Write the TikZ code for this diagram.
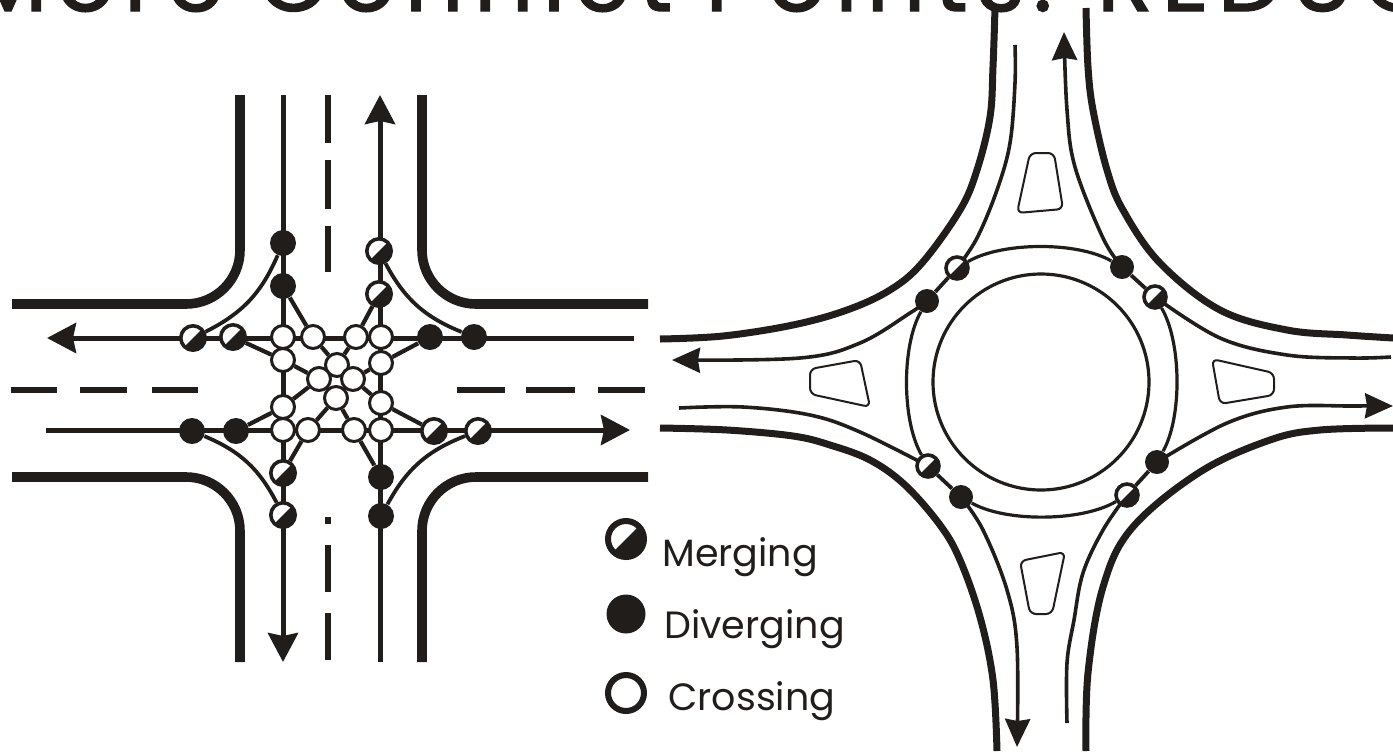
\documentclass[tikz,border=0pt]{standalone}
\usepackage{fontspec}
\setmainfont{Poppins}
\usepackage{xcolor}
\usetikzlibrary{arrows.meta,backgrounds}
\definecolor{roadink}{RGB}{33,29,27}

\tikzset{
  roadedge/.style={draw=roadink, line width=4.8pt},
  curbedge/.style={draw=roadink, line width=3.5pt},
  lane/.style={draw=roadink, line width=2.5pt},
  turnlane/.style={draw=roadink, line width=1.9pt},
  ringlane/.style={draw=roadink, line width=1.6pt},
  median/.style={draw=roadink, line width=2.6pt},
  splitter/.style={draw=roadink, line width=1pt, rounded corners=3pt},
  tipbig/.style={-{Stealth[length=14.5pt,width=15pt,inset=1.5pt]}},
  tipsmall/.style={-{Stealth[length=14pt,width=12.5pt,inset=1pt]}},
  crossing/.style={circle, draw=roadink, fill=white, line width=1.5pt, inner sep=0pt, minimum size=11.5pt},
  diverging/.style={circle, fill=roadink, inner sep=0pt, minimum size=13pt},
  merging/.style={circle, draw=roadink, fill=white, line width=1.8pt, inner sep=0pt, minimum size=12.2pt,
    path picture={\fill[roadink] (path picture bounding box.south west) -- (path picture bounding box.north east)
      -- (path picture bounding box.south east) -- cycle;}},
  legendtext/.style={anchor=base west, text=roadink, font=\fontsize{19}{23}\selectfont, inner sep=0pt}
}

\begin{document}
\begin{tikzpicture}[x=0.5pt, y=-0.5pt]
  \useasboundingbox (0,0) rectangle (1393,751);
  \clip (0,0) rectangle (1393,751);

  % Clipped heading
  \node[anchor=base west, inner sep=0pt, text=roadink, font=\fontsize{46}{50}\selectfont\addfontfeature{LetterSpace=9.5,FakeBold=1.5}] (heading) at (-32,11)
    {More Conflict Points: REDUCE};

  % Conflict points, crossroads
  \foreach \nam/\x/\y in {dA/283/243, dB/283/286, dC/192/431, dD/236/431,
                          dE/381/477, dF/381/516, dG/430/337, dH/474/337}
    \node[diverging] (\nam) at (\x,\y) {};
  \foreach \nam/\x/\y in {mA/379/251, mB/379/294, mC/193/338, mD/233/337,
                          mE/283/473, mF/283/515, mG/434/431, mH/478/431}
    \node[merging] (\nam) at (\x,\y) {};
  \foreach \nam/\x/\y in {cA/283/337, cB/313/337, cC/356/337, cD/381/337,
                          cE/283/360, cF/381/363, cG/337/365, cH/319/379,
                          cI/353/379, cJ/336/398, cK/283/407, cL/381/403,
                          cM/283/430, cN/308/430, cO/354/430, cP/381/430}
    \node[crossing] (\nam) at (\x,\y) {};

  % Conflict points, roundabout
  \foreach \nam/\x/\y in {rdA/1122/267, rdB/927/301, rdC/961/497, rdD/1157/462}
    \node[diverging, minimum size=12pt] (\nam) at (\x,\y) {};
  \foreach \nam/\x/\y/\ang in {rmA/957/268/-90, rmB/1155/297/180, rmC/1127/495/90, rmD/928/466/0}
    \node[merging, rotate=\ang, minimum size=11pt] (\nam) at (\x,\y) {};

  % Free ends of the lanes
  \foreach \nam/\x/\y in {sIn/283/95, sOut/283/662, nIn/380/662, nOut/380/95,
                          wIn/634/338, wOut/47/338, eIn/46/430, eOut/630/430,
                          rsIn/1015/45, rnOut/1064/32, rwOut/672/360, reIn/679/408,
                          reOut/1393/406, rwIn/1391/357, rsOut/1017/747, rnIn/1067/723}
    \coordinate (\nam) at (\x,\y);

  % Legend
  \node[merging, minimum size=18pt, line width=3pt] (keymerge) at (626,539) {};
  \node[diverging, minimum size=19.5pt] (keydiverge) at (626,614) {};
  \node[crossing, minimum size=18pt, line width=3pt] (keycross) at (626,693) {};
  \node[legendtext] (labmerge) at (662,566) {Merging};
  \node[legendtext] (labdiverge) at (664,638) {Diverging};
  \node[legendtext] (labcross) at (668,710) {Crossing};

  \begin{scope}[on background layer]
    % Crossroads kerbs
    \draw[roadedge, rounded corners=27pt] (240,95) -- (240,304) -- (12,304);
    \draw[roadedge, rounded corners=27pt] (422,95) -- (422,304) -- (648,304);
    \draw[roadedge, rounded corners=27pt] (240,662) -- (240,477) -- (12,477);
    \draw[roadedge, rounded corners=27pt] (422,662) -- (422,477) -- (648,477);

    % Crossroads centre lines
    \foreach \a/\b in {95/143, 160/209, 226/272, 517/524, 545/592, 613/660}
      \draw[median] (328,\a) -- (328,\b);
    \foreach \a/\b in {11/57, 80/127, 152/198, 457/505, 526/575, 598/645}
      \draw[median] (\a,390) -- (\b,390);

    % Through lanes
    \draw[lane, tipbig] (sIn) -- (sOut);
    \draw[lane, tipbig] (nIn) -- (nOut);
    \draw[lane, tipbig] (wIn) -- (wOut);
    \draw[lane, tipbig] (eIn) -- (eOut);

    % Right turns
    \draw[turnlane] (dA) to[bend left=20] (mC);
    \draw[turnlane] (dH) to[bend left=20] (mA);
    \draw[turnlane] (dF) to[bend left=20] (mH);
    \draw[turnlane] (dC) to[bend left=20] (mF);

    % Left turns
    \draw[turnlane, line width=2.1pt] (dB) -- (cB) -- (cG) -- (cI) -- (cL) -- (mG);
    \draw[turnlane, line width=2.1pt] (mB) -- (cC) -- (cG) -- (cH) -- (cK) -- (dD);
    \draw[turnlane, line width=2.1pt] (mD) -- (cE) -- (cH) -- (cJ) -- (cO) -- (dE);
    \draw[turnlane, line width=2.1pt] (dG) -- (cF) -- (cI) -- (cJ) -- (cN) -- (mE);

    % Roundabout kerbs
    \draw[curbedge] plot[smooth, tension=0.6] coordinates {(995,8) (993,67) (990,117) (977,170) (960,210) (922,263) (890,290) (847,310) (793,325) (723,336) (660,339)};
    \draw[curbedge] plot[smooth, tension=0.6] coordinates {(1086,8) (1088,67) (1093,110) (1107,170) (1123,210) (1160,263) (1220,310) (1287,330) (1347,335) (1393,338)};
    \draw[curbedge] plot[smooth, tension=0.6] coordinates {(997,751) (993,680) (980,617) (960,560) (940,525) (905,485) (870,460) (830,445) (793,436) (727,430) (660,428)};
    \draw[curbedge] plot[smooth, tension=0.6] coordinates {(1086,751) (1088,673) (1103,587) (1132,528) (1200,472) (1270,440) (1320,430) (1393,428)};

    % Roundabout lanes
    \draw[turnlane, line width=1.8pt] plot[smooth, tension=0.6] coordinates {(rsIn) (1015,83) (1010,143) (997,190) (977,238) (rmA)};
    \draw[turnlane, line width=1.8pt, tipsmall] plot[smooth, tension=0.6] coordinates {(rdA) (1103,238) (1075,167) (1067,110) (rnOut)};
    \draw[turnlane, line width=1.8pt, tipsmall] plot[smooth, tension=0.6] coordinates {(rdB) (910,313) (860,343) (800,358) (rwOut)};
    \draw[turnlane, line width=1.8pt] plot[smooth, tension=0.6] coordinates {(reIn) (743,407) (810,415) (860,432) (rmD)};
    \draw[turnlane, line width=1.8pt] plot[smooth, tension=0.6] coordinates {(rwIn) (1353,358) (1287,355) (1220,338) (rmB)};
    \draw[turnlane, line width=1.8pt, tipsmall] plot[smooth, tension=0.6] coordinates {(rdD) (1227,423) (1287,407) (1352,406) (reOut)};
    \draw[turnlane, line width=1.8pt, tipsmall] plot[smooth, tension=0.6] coordinates {(rdC) (983,530) (1007,590) (1017,647) (rsOut)};
    \draw[turnlane, line width=1.8pt] plot[smooth, tension=0.6] coordinates {(rnIn) (1067,663) (1074,620) (1083,573) (1103,530) (rmC)};

    % Circulating ring
    \draw[ringlane] (rmA) to[bend left=30, looseness=0.7] (rdA);
    \draw[ringlane] (rmB) to[bend left=30, looseness=0.7] (rdD);
    \draw[ringlane] (rmC) to[bend left=30, looseness=0.7] (rdC);
    \draw[ringlane] (rmD) to[bend left=30, looseness=0.7] (rdB);
    \draw[turnlane] (rmA) -- (rdB);
    \draw[turnlane] (rdA) -- (rmB);
    \draw[turnlane] (rdD) -- (rmC);
    \draw[turnlane] (rdC) -- (rmD);
    \draw[ringlane] (1041,382) circle[radius=108];

    % Splitter islands
    \draw[splitter] (1030,153) -- (1054,153) -- (1063,209) -- (1017,213) -- cycle;
    \draw[splitter] (810,369) -- (860,360) -- (870,407) -- (810,394) -- cycle;
    \draw[splitter] (1212,359) -- (1274,373) -- (1274,395) -- (1220,404) -- cycle;
    \draw[splitter] (1020,561) -- (1065,552) -- (1052,614) -- (1030,614) -- cycle;
  \end{scope}

\end{tikzpicture}
\end{document}
